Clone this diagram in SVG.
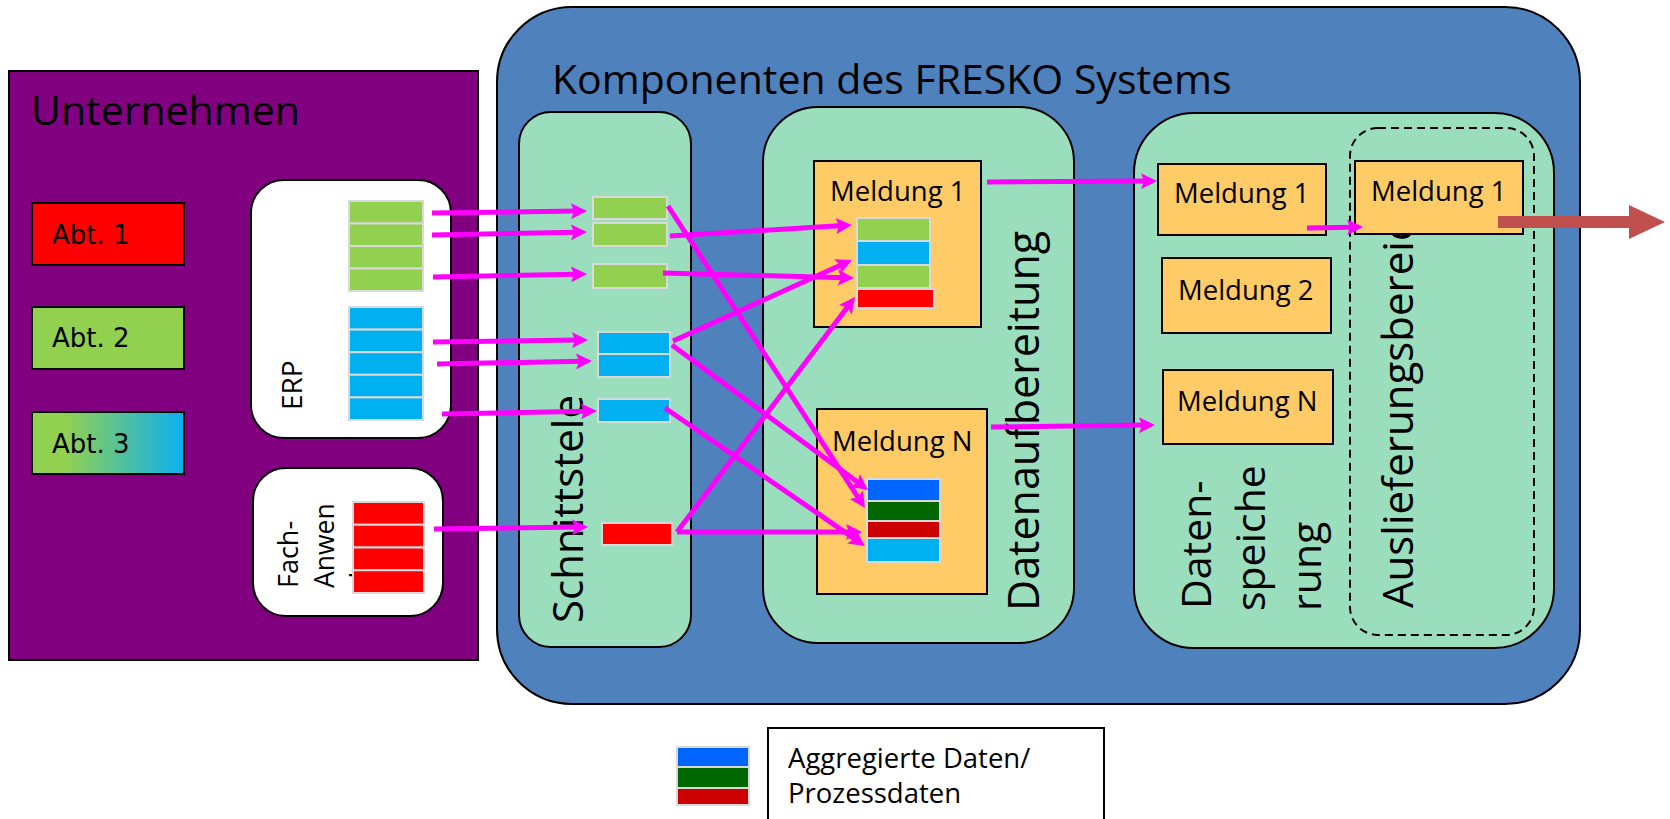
<svg xmlns="http://www.w3.org/2000/svg" width="1670" height="819" viewBox="0 0 1670 819">
<defs>
<style>
.cont{stroke:#000;stroke-width:2}
.mint{fill:#9BDEBD;stroke:#000;stroke-width:2}
.msg{fill:#FFCB66;stroke:#000;stroke-width:2}
.white{fill:#FFFFFF;stroke:#000;stroke-width:2}
.abt{stroke:#000;stroke-width:2}
.cell{stroke:#D9D9D9;stroke-width:2}
.g{fill:#92D050}.b{fill:#00B0F0}.r{fill:#FF0000}
.lb{fill:#0066FF}.dg{fill:#006600}.dr{fill:#CC0000}
.t{font-family:"Open Sans","Liberation Sans",sans-serif;fill:#000}
.m{font-family:"Open Sans","Liberation Sans",sans-serif;font-size:27.5px;fill:#000}
.a{font-family:"DejaVu Sans","Liberation Sans",sans-serif;font-size:26px;fill:#000}
.flow{stroke:#FF00FF;stroke-width:5;fill:none;marker-end:url(#mh)}
</style>
<marker id="mh" markerUnits="userSpaceOnUse" markerWidth="16" markerHeight="16" viewBox="0 0 16 16" refX="7" refY="8" orient="auto"><path d="M0,0 L16,8 L0,16 L3,8 z" fill="#FF00FF"/></marker>
<linearGradient id="abt3g" x1="0" y1="0" x2="1" y2="0">
<stop offset="0" stop-color="#92D050"/><stop offset="0.22" stop-color="#92D050"/><stop offset="1" stop-color="#0CB0F0"/>
</linearGradient>
</defs>

<g id="unternehmen">
<rect class="cont" x="9" y="71" width="469" height="589" fill="#800080"/>
<text class="t" x="31" y="125" font-size="41">Unternehmen</text>
</g>
<g id="abt1"><rect class="abt" x="32" y="203" width="152" height="62" fill="#FF0000"/><text class="a" x="52" y="244">Abt. 1</text></g>
<g id="abt2"><rect class="abt" x="32" y="307" width="152" height="62" fill="#92D050"/><text class="a" x="52" y="347">Abt. 2</text></g>
<g id="abt3"><rect class="abt" x="32" y="412" width="152" height="62" fill="url(#abt3g)"/><text class="a" x="52" y="453">Abt. 3</text></g>

<g id="erp">
<rect class="white" x="251" y="180" width="200" height="258" rx="33"/>
<text class="t" font-size="28" transform="translate(302,410) rotate(-90)">ERP</text>
<rect class="cell g" x="349" y="201" width="74" height="22.5"/>
<rect class="cell g" x="349" y="223.5" width="74" height="22.5"/>
<rect class="cell g" x="349" y="246" width="74" height="22.5"/>
<rect class="cell g" x="349" y="268.5" width="74" height="22.5"/>
<rect class="cell b" x="349" y="307" width="74" height="22.6"/>
<rect class="cell b" x="349" y="329.6" width="74" height="22.6"/>
<rect class="cell b" x="349" y="352.2" width="74" height="22.6"/>
<rect class="cell b" x="349" y="374.8" width="74" height="22.6"/>
<rect class="cell b" x="349" y="397.4" width="74" height="22.6"/>
</g>

<g id="fachanwendung">
<rect class="white" x="253" y="468" width="190" height="148" rx="33"/>
<text class="t" font-size="27" transform="translate(298,588) rotate(-90)">Fach-</text>
<text class="t" font-size="26.5" transform="translate(334,588) rotate(-90)">Anwen</text>
<text class="t" font-size="26.5" transform="translate(370,588) rotate(-90)">dung</text>
<rect class="cell r" x="353" y="502" width="71" height="22.75"/>
<rect class="cell r" x="353" y="524.75" width="71" height="22.75"/>
<rect class="cell r" x="353" y="547.5" width="71" height="22.75"/>
<rect class="cell r" x="353" y="570.25" width="71" height="22.75"/>
</g>

<g id="fresko">
<rect class="cont" x="497" y="7" width="1083" height="697" rx="75" fill="#4F81BD"/>
<text class="t" x="552" y="94" font-size="41">Komponenten des FRESKO Systems</text>
</g>

<g id="schnittstelle">
<rect class="mint" x="519" y="112" width="172" height="535" rx="32"/>
<text class="t" font-size="42" transform="translate(583,623) rotate(-90)">Schnittstele</text>
<rect class="cell g" x="593" y="197" width="74" height="22"/>
<rect class="cell g" x="593" y="223" width="74" height="23"/>
<rect class="cell g" x="593" y="264" width="74" height="24"/>
<rect class="cell b" x="598" y="332" width="72" height="22"/>
<rect class="cell b" x="598" y="354" width="72" height="23"/>
<rect class="cell b" x="598" y="399" width="72" height="23"/>
<rect class="cell r" x="602" y="523" width="70" height="22"/>
</g>

<g id="datenaufbereitung">
<rect class="mint" x="763" y="107" width="311" height="536" rx="55"/>
<text class="t" font-size="43" transform="translate(1039,611) rotate(-90)">Datenaufbereitung</text>
</g>
<g id="da-meldung1">
<rect class="msg" x="814" y="161" width="167" height="166"/>
<text class="m" x="830" y="201">Meldung 1</text>
<rect class="cell g" x="857" y="218" width="73" height="23"/>
<rect class="cell b" x="857" y="241" width="73" height="24"/>
<rect class="cell g" x="857" y="265" width="73" height="23"/>
<rect class="cell r" x="857" y="289" width="77" height="19"/>
</g>
<g id="da-meldungN">
<rect class="msg" x="817" y="409" width="170" height="185"/>
<text class="m" x="832" y="451">Meldung N</text>
<rect class="cell lb" x="867" y="479" width="73" height="22"/>
<rect class="cell dg" x="867" y="501" width="73" height="20"/>
<rect class="cell dr" x="867" y="521" width="73" height="17"/>
<rect class="cell b" x="867" y="538" width="73" height="24"/>
</g>

<g id="datenspeicherung">
<rect class="mint" x="1134" y="113" width="420" height="535" rx="60"/>
<text class="t" font-size="41" transform="translate(1211,609) rotate(-90)">Daten-</text>
<text class="t" font-size="41" transform="translate(1265,611) rotate(-90)">speiche</text>
<text class="t" font-size="41" transform="translate(1321,611) rotate(-90)">rung</text>
</g>
<g id="auslieferungsbereich">
<rect x="1350" y="128" width="184" height="507" rx="28" fill="none" stroke="#000" stroke-width="2" stroke-dasharray="8,5"/>
<text class="t" font-size="42" transform="translate(1413,608) rotate(-90)">Auslieferungsbereich</text>
</g>
<g id="ds-meldung1"><rect class="msg" x="1158" y="164" width="168" height="71"/><text class="m" x="1174" y="203">Meldung 1</text></g>
<g id="ds-meldung2"><rect class="msg" x="1162" y="258" width="169" height="75"/><text class="m" x="1178" y="300">Meldung 2</text></g>
<g id="ds-meldungN"><rect class="msg" x="1163" y="370" width="170" height="74"/><text class="m" x="1177" y="411">Meldung N</text></g>
<g id="al-meldung1"><rect class="msg" x="1355" y="161" width="168" height="73"/><text class="m" x="1371" y="201">Meldung 1</text></g>

<g id="legende">
<rect class="cell lb" x="677" y="747" width="72" height="20"/>
<rect class="cell dg" x="677" y="767" width="72" height="21"/>
<rect class="cell dr" x="677" y="788" width="72" height="17"/>
<rect x="768" y="728" width="336" height="110" fill="#FFFFFF" stroke="#000" stroke-width="2"/>
<text class="m" x="788" y="768">Aggregierte Daten/</text>
<text class="m" x="788" y="803">Prozessdaten</text>
</g>

<g id="connectors">
<line class="flow" x1="432" y1="213" x2="578" y2="211.1"/>
<line class="flow" x1="432" y1="235" x2="578" y2="232.2"/>
<line class="flow" x1="433" y1="277" x2="578" y2="274.2"/>
<line class="flow" x1="433" y1="342" x2="579" y2="340.1"/>
<line class="flow" x1="437" y1="364" x2="583" y2="361.2"/>
<line class="flow" x1="442" y1="414" x2="588" y2="411.2"/>
<line class="flow" x1="434" y1="529" x2="579" y2="527.1"/>
<line class="flow" x1="668" y1="206" x2="860.1" y2="500.5"/>
<line class="flow" x1="670" y1="236" x2="843" y2="225.5"/>
<line class="flow" x1="663" y1="273" x2="845" y2="277.8"/>
<line class="flow" x1="673" y1="341" x2="843.8" y2="263.7"/>
<line class="flow" x1="672" y1="345" x2="860.8" y2="484.6"/>
<line class="flow" x1="665" y1="408" x2="857.6" y2="540.9"/>
<line class="flow" x1="677" y1="532" x2="853" y2="532"/>
<line class="flow" x1="677" y1="532" x2="849.6" y2="304.2"/>
<line class="flow" x1="987" y1="182" x2="1148" y2="181.1"/>
<line class="flow" x1="991" y1="427" x2="1146" y2="425.1"/>
<line class="flow" x1="1307" y1="228" x2="1354" y2="227.2"/>
<path d="M1498,216 H1629 V205 L1665,222 L1629,239 V228 H1498 Z" fill="#C0504D"/>
</g>
</svg>
